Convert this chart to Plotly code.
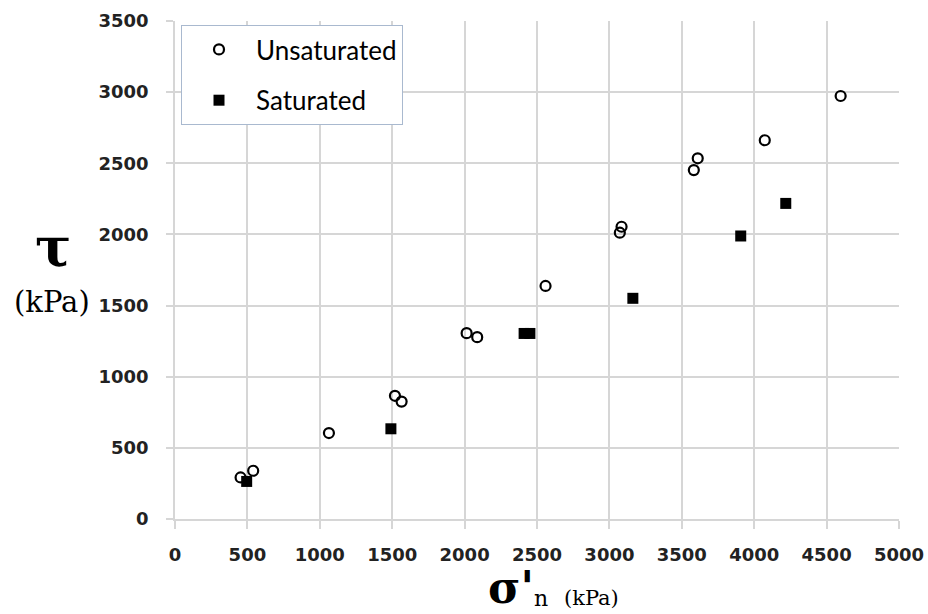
import plotly.graph_objects as go

# Data
unsat_sigma = [453, 540, 1063, 1519, 1565, 2014, 2087, 2559, 3072, 3084, 3583, 3610, 4073, 4597]
unsat_tau = [292, 339, 604, 866, 825, 1306, 1278, 1638, 2012, 2054, 2452, 2535, 2662, 2973]
sat_sigma = [495, 1491, 2411, 2451, 3162, 3907, 4218]
sat_tau = [264, 634, 1304, 1304, 1551, 1989, 2218]

x_ticks = [0, 500, 1000, 1500, 2000, 2500, 3000, 3500, 4000, 4500, 5000]
y_ticks = [0, 500, 1000, 1500, 2000, 2500, 3000, 3500]

W, H = 928, 614
L, R, T, B = 175, 29, 21, 95
pw, ph = W - L - R, H - T - B

def px(x):
    return (x - L) / pw

def py(y):
    return (H - B - y) / ph

fig = go.Figure()
fig.add_trace(go.Scatter(
    x=unsat_sigma, y=unsat_tau, mode="markers", name="Unsaturated",
    legendgroup="u",
    marker=dict(symbol="circle-open", size=10, color="black", line=dict(width=2.2, color="black")),
))
fig.add_trace(go.Scatter(
    x=sat_sigma, y=sat_tau, mode="markers", name="Saturated",
    legendgroup="s",
    marker=dict(symbol="square", size=11, color="black", line=dict(width=0)),
))

grid = "#d6d6d6"
tickfont = dict(family="DejaVu Sans", size=18, color="#222222", weight="bold")

fig.update_xaxes(
    range=[0, 5000], tickvals=x_ticks, ticktext=[str(v) for v in x_ticks],
    showgrid=True, gridcolor=grid, gridwidth=1.5,
    showline=True, linecolor=grid, linewidth=1.5, mirror=False,
    ticks="outside", ticklen=8, tickcolor=grid, tickwidth=1.5,
    tickfont=tickfont, ticklabelstandoff=11, zeroline=False, automargin=False,
)
fig.update_yaxes(
    range=[0, 3500], tickvals=y_ticks, ticktext=[str(v) for v in y_ticks],
    showgrid=True, gridcolor=grid, gridwidth=1.5,
    showline=True, linecolor=grid, linewidth=1.5,
    ticks="outside", ticklen=7, tickcolor=grid, tickwidth=1.5,
    tickfont=tickfont, ticklabelstandoff=14, zeroline=False, automargin=False,
)

serif = "DejaVu Serif"
annotations = [
    dict(text="τ", x=px(53), y=py(247), font=dict(family=serif, size=54, color="black", weight="bold")),
    dict(text="(kPa)", x=px(52), y=py(302), font=dict(family=serif, size=29, color="black")),
    dict(text="σ'", x=px(511), y=py(587), font=dict(family=serif, size=44, color="black", weight="bold")),
    dict(text="(kPa)", x=px(591), y=py(598), font=dict(family=serif, size=21, color="black")),
]
for a in annotations:
    a.update(xref="paper", yref="paper", showarrow=False, xanchor="center", yanchor="middle")
annotations.append(dict(
    text="n", x=px(541), y=py(613), xref="paper", yref="paper", showarrow=False,
    xanchor="center", yanchor="bottom", font=dict(family=serif, size=22, color="black"),
))

fig.update_layout(
    width=W, height=H, autosize=False,
    margin=dict(l=L, r=R, t=T, b=B),
    plot_bgcolor="white", paper_bgcolor="white",
    annotations=annotations,
    legend=dict(
        x=px(181), y=py(25), xanchor="left", yanchor="top",
        bgcolor="white", bordercolor="#a9b9cf", borderwidth=1,
        font=dict(family="Lato", size=26, color="black"),
        traceorder="grouped", tracegroupgap=14, itemwidth=64,
    ),
    showlegend=True,
)

fig.write_html(
    "out.html",
    config={"displayModeBar": False, "responsive": False},
    post_script="document.body.style.margin='0px';document.body.style.overflow='hidden';",
)
